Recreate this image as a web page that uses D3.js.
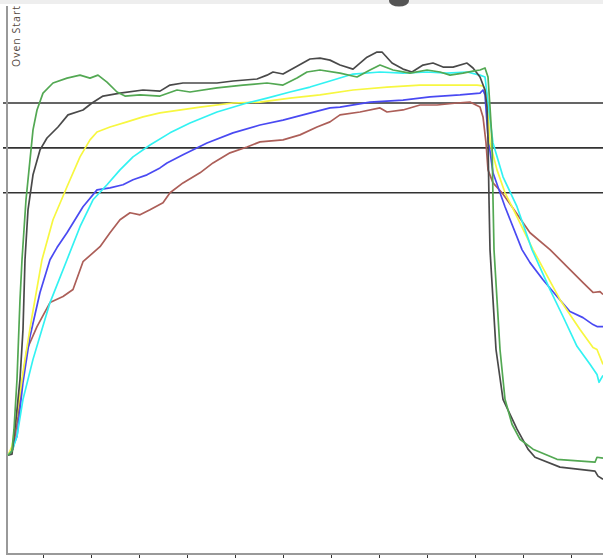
<!DOCTYPE html>
<html>
<head>
<meta charset="utf-8">
<script src="https://cdn.jsdelivr.net/npm/d3@7"></script>
<style>
  html, body { margin: 0; padding: 0; background: #fff; }
  svg { display: block; }
</style>
</head>
<body>
<svg id="chart" width="603" height="558"></svg>
<script>
// time in seconds, temperature in °C
const timeTicks = [60, 120, 180, 240, 300, 360, 420, 480, 540, 600, 660, 720];
const limitLines = [200, 180, 160];
const markerLabel = "Oven Start";

const greenProfile = [[16.25,43.1],[21.25,44.9],[23.75,54.7],[27.5,76.9],[31.25,112.4],[33.75,130.2],[38.75,156.9],[43.75,174.7],[47.5,188],[52.5,196.9],[60,204.4],[72.5,208.9],[90,211.1],[106.25,212.4],[118.75,211.1],[128.75,212.4],[140,209.3],[152.5,204.9],[162.5,203.1],[181.25,203.6],[206.25,203.1],[227.5,205.8],[243.75,204.9],[277.5,206.7],[310,208],[340,208.9],[360,208],[377.5,211.1],[390,213.8],[406.25,214.7],[431.25,213.3],[452.5,211.6],[468.75,214.7],[481.25,216.9],[497.5,214.7],[518.75,213.3],[540,214.7],[556.25,213.8],[568.75,212.4],[585,213.3],[597.5,214.2],[606.25,214.7],[612.5,215.6],[616.25,211.6],[618.75,198.2],[621.25,183.6],[622.5,156.9],[623.75,134.7],[627.5,112.4],[631.25,90.2],[637.5,68],[646.25,56.9],[656.25,50.2],[672.5,45.8],[702.5,41.3],[750,40],[752.5,42.2],[760,41.8]];

const blackProfile = [[16.25,43.1],[21.25,43.6],[26.25,59.1],[31.25,76.9],[35,99.1],[37.5,130.2],[41.25,152.4],[47.5,168],[56.25,179.1],[65,184.4],[78.75,189.3],[91.25,194.7],[110,196.9],[121.25,200],[135,203.1],[156.25,204.4],[185,205.8],[206.25,205.3],[218.75,208],[235,208.9],[256.25,208.9],[277.5,208.9],[297.5,209.8],[327.5,210.7],[340,212.4],[347.5,213.8],[360,212.9],[377.5,216.4],[393.75,219.6],[406.25,220],[418.75,219.1],[431.25,216.9],[447.5,215.1],[465,220.4],[477.5,222.7],[483.75,222.7],[496.25,217.8],[510,215.1],[521.25,213.8],[535,216.9],[547.5,217.8],[560,216],[572.5,216],[590,217.8],[597.5,215.6],[606.25,211.6],[612.5,205.8],[615,198.2],[616.25,183.6],[617.5,156.9],[618.75,134.7],[622.5,112.4],[626.25,90.2],[635,68],[652.5,54.7],[666.25,45.8],[675,42.2],[706.25,37.8],[750,36],[753.75,33.8],[760,32.4]];

const cyanProfile = [[16.25,43.1],[21.25,44.9],[27.5,51.6],[35,68],[47.5,85.8],[68.75,111.1],[90,130.2],[106.25,144.9],[122.5,156.9],[140,163.6],[156.25,170.2],[172.5,176],[193.75,181.3],[218.75,186.7],[243.75,191.1],[277.5,196],[315,200],[340,202.2],[368.75,204.9],[393.75,207.1],[418.75,209.8],[447.5,212.9],[481.25,213.8],[510,213.3],[540,213.8],[565,213.3],[590,213.8],[606.25,212.4],[612.5,211.6],[616.25,200],[622.5,182.2],[635,167.1],[652.5,153.8],[671.25,134.7],[693.75,116.9],[710,104.9],[727.5,91.6],[743.75,83.6],[752.5,79.1],[755,75.6],[760,78.7]];

const yellowProfile = [[16.25,43.1],[21.25,47.1],[28.75,64.9],[37.5,85.8],[46.25,104.9],[58.75,130.2],[72.5,148],[90,162.7],[106.25,176],[118.75,183.6],[127.5,187.1],[143.75,189.3],[165,191.6],[185,193.8],[206.25,195.6],[256.25,198.2],[297.5,200],[331.25,200.4],[368.75,202.2],[406.25,203.6],[447.5,205.8],[490,207.1],[531.25,208],[572.5,208],[602.5,208],[610,207.6],[615,204.4],[618.75,182.2],[627.5,170.2],[637.5,160],[646.25,153.8],[672.5,134.7],[706.25,112.4],[731.25,99.1],[747.5,91.1],[752.5,90.2],[760,83.6]];

const blueProfile = [[16.25,43.1],[21.25,45.8],[27.5,51.6],[35,75.6],[43.75,96],[56.25,115.6],[68.75,130.2],[77.5,135.6],[90,142.2],[110,153.8],[127.5,161.3],[143.75,162.2],[160,163.6],[172.5,165.8],[190,168],[206.25,171.1],[215,173.3],[235,176.9],[265,182.2],[297.5,186.7],[331.25,190.2],[360,192.4],[385,194.7],[418.75,197.8],[431.25,198.2],[468.75,200.4],[510,201.3],[543.75,202.7],[581.25,203.6],[606.25,204.4],[610,205.8],[612.5,203.6],[616.25,184.9],[622.5,168.9],[631.25,160],[637.5,153.8],[658.75,134.7],[668.75,128.9],[685,121.3],[702.5,113.8],[718.75,107.1],[735,104.4],[747.5,101.3],[752.5,100.4],[760,100.4]];

const brownProfile = [[16.25,43.1],[22.5,45.8],[28.75,60.4],[33.75,75.6],[40,90.2],[52.5,100.4],[68.75,111.1],[85,113.8],[97.5,116.9],[110,129.3],[131.25,136],[143.75,142.2],[156.25,148],[168.75,151.1],[181.25,150.2],[193.75,152.4],[210,155.6],[218.75,160],[235,164.4],[256.25,168.9],[272.5,173.3],[293.75,177.8],[315,180.4],[331.25,182.7],[360,183.6],[381.25,185.8],[402.5,189.3],[418.75,191.6],[431.25,194.7],[456.25,196],[481.25,197.8],[490,196],[510,196.9],[531.25,199.1],[552.5,199.1],[577.5,200],[593.75,200.4],[606.25,198.2],[610,193.8],[613.75,182.2],[616.25,170.2],[622.5,164.4],[633.75,160],[646.25,153.8],[668.75,142.2],[693.75,134.7],[718.75,125.8],[735,120],[747.5,115.6],[756.25,116],[760,114.7]];

const series = [
  { name: "TC1", data: brownProfile,  color: "#ac5e58" },
  { name: "TC2", data: blueProfile,   color: "#4a4af2" },
  { name: "TC3", data: yellowProfile, color: "#f7f740" },
  { name: "TC4", data: cyanProfile,   color: "#33f2f2" },
  { name: "TC5", data: blackProfile,  color: "#4a4a4a" },
  { name: "TC6", data: greenProfile,  color: "#52a852" }
];

const svg = d3.select("#chart");
const W = 603, H = 558;
const left = 7, axisY = 554;

const x = d3.scaleLinear().domain([0, 760]).range([-5, 603]);
const y = d3.scaleLinear().domain([0, 200]).range([552, 103]);

// soft blur to mimic the reference's scaled rendering
const defs = svg.append("defs");
defs.append("filter").attr("id", "soft")
  .attr("filterUnits", "userSpaceOnUse")
  .attr("x", 0).attr("y", 0).attr("width", W).attr("height", H)
  .append("feGaussianBlur").attr("stdDeviation", 0.35);
defs.append("clipPath").attr("id", "clip")
  .append("rect").attr("x", left).attr("y", 0).attr("width", W - left).attr("height", axisY);

// top light band
svg.append("rect").attr("x", 0).attr("y", 0).attr("width", W).attr("height", 4).attr("fill", "#eeeeee");

// dark blob at top (partial marker)
svg.append("ellipse").attr("cx", 399).attr("cy", 1).attr("rx", 10).attr("ry", 5.5).attr("fill", "#555");

// limit lines
svg.selectAll("line.limit").data(limitLines).join("line")
  .attr("class", "limit")
  .attr("x1", 3).attr("x2", W)
  .attr("y1", d => y(d)).attr("y2", d => y(d))
  .attr("stroke", "#333").attr("stroke-width", 1.6)
  .attr("filter", "url(#soft)");

// left axis
svg.append("line").attr("x1", left).attr("x2", left).attr("y1", 6).attr("y2", axisY)
  .attr("stroke", "#999").attr("stroke-width", 2);

// bottom axis
const xAxis = d3.axisBottom(x).tickValues(timeTicks).tickFormat("").tickSize(5).tickSizeOuter(0);
const gx = svg.append("g").attr("transform", `translate(0,${axisY})`).call(xAxis);
gx.select(".domain").remove();
gx.selectAll(".tick line").attr("stroke", "#333").attr("stroke-width", 1);
svg.append("line").attr("x1", left - 1).attr("x2", W).attr("y1", axisY).attr("y2", axisY)
  .attr("stroke", "#999").attr("stroke-width", 2);

// series
const line = d3.line().x(d => x(d[0])).y(d => y(d[1]));
svg.append("g").attr("clip-path", "url(#clip)")
  .selectAll("path").data(series).join("path")
  .attr("d", d => line(d.data))
  .attr("fill", "none")
  .attr("stroke", d => d.color)
  .attr("stroke-width", 1.7)
  .attr("stroke-linejoin", "round")
  .attr("filter", "url(#soft)");

// Oven Start label
svg.append("text")
  .attr("transform", "translate(20,67) rotate(-90)")
  .attr("font-family", "'Open Sans', 'DejaVu Sans', sans-serif")
  .attr("font-size", 10.5)
  .attr("fill", "#54483e")
  .attr("textLength", 61)
  .text(markerLabel);
</script>
</body>
</html>
